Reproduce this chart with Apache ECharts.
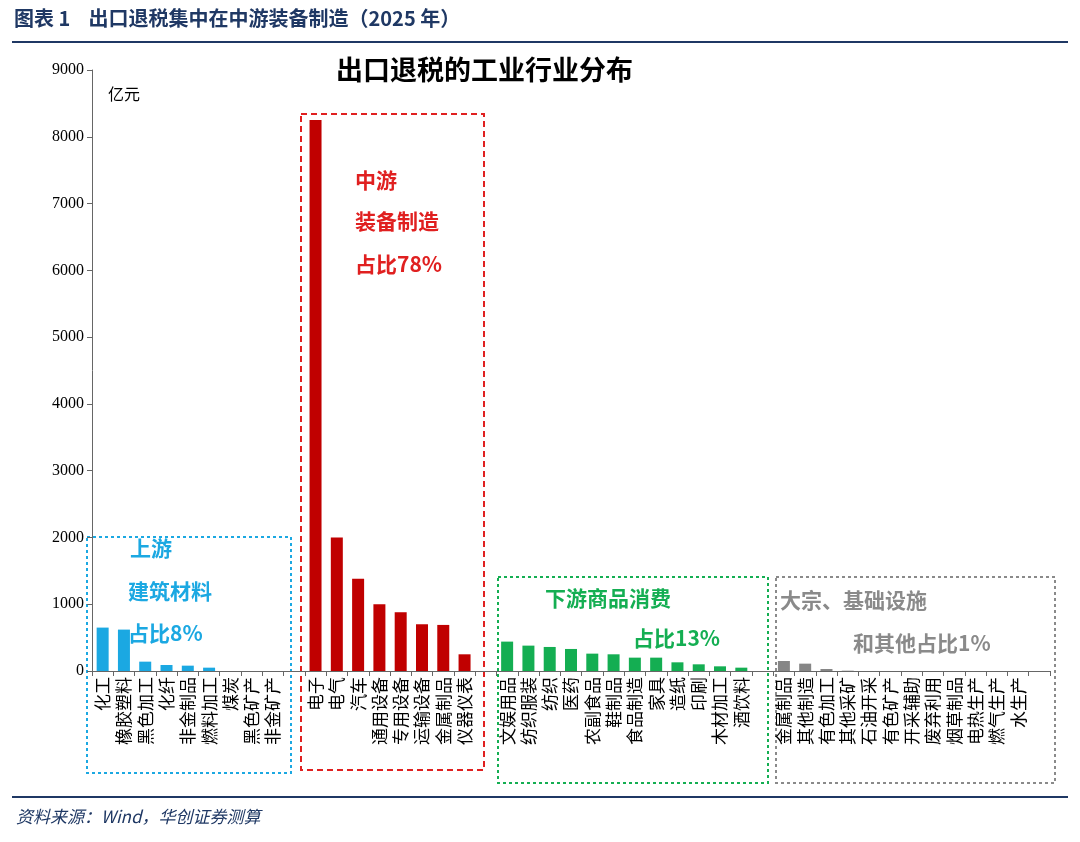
<!DOCTYPE html>
<html>
<head>
<meta charset="utf-8">
<script src="https://cdn.jsdelivr.net/npm/echarts@6/dist/echarts.min.js"></script>
<style>
  html, body { margin: 0; padding: 0; background: #fff; }
  #main { width: 1080px; height: 842px; }
</style>
</head>
<body>
<div id="main"></div>
<script>
  // categories, '' = gap between groups
  const upstream = ['化工', '橡胶塑料', '黑色加工', '化纤', '非金制品', '燃料加工', '煤炭', '黑色矿产', '非金矿产'];
  const upstreamVals = [650, 620, 140, 90, 80, 50, 0, 0, 0];
  const midstream = ['电子', '电气', '汽车', '通用设备', '专用设备', '运输设备', '金属制品', '仪器仪表'];
  const midstreamVals = [8250, 2000, 1380, 1000, 880, 700, 690, 250];
  const downstream = ['文娱用品', '纺织服装', '纺织', '医药', '农副食品', '鞋制品', '食品制造', '家具', '造纸', '印刷', '木材加工', '酒饮料'];
  const downstreamVals = [440, 380, 360, 330, 260, 250, 200, 200, 130, 100, 70, 50];
  const others = ['金属制品', '其他制造', '有色加工', '其他采矿', '石油开采', '有色矿产', '开采辅助', '废弃利用', '烟草制品', '电热生产', '燃气生产', '水生产'];
  const othersVals = [150, 110, 30, 5, 0, 0, 0, 0, 0, 0, 0, 0];

  const groups = [
    [upstream, upstreamVals, '#1ba8e2'],
    [midstream, midstreamVals, '#c00000'],
    [downstream, downstreamVals, '#14ae52'],
    [others, othersVals, '#868686']
  ];
  const cats = [];
  const data = [];
  groups.forEach(function (g, gi) {
    if (gi > 0) { cats.push(' '.repeat(gi)); data.push('-'); }
    g[0].forEach(function (c, i) {
      cats.push(c);
      data.push({ value: g[1][i], itemStyle: { color: g[2] } });
    });
  });
  cats.push('    '); data.push('-');

  const font = 'Noto Sans CJK SC';
  function note(x, y, t, color, size) {
    return { type: 'text', left: x, top: y, style: { text: t, fill: color, font: 'bold ' + (size || 21) + 'px "' + font + '"' } };
  }
  function box(x, y, w, h, color, dash) {
    return { type: 'rect', shape: { x: x, y: y, width: w, height: h },
      style: { fill: 'none', stroke: color, lineWidth: 2, lineDash: dash } };
  }

  const chart = echarts.init(document.getElementById('main'));
  chart.setOption({
    animation: false,
    textStyle: { fontFamily: font },
    grid: { left: 92, right: 30, top: 70, bottom: 171 },
    xAxis: {
      type: 'category',
      data: cats,
      axisLine: { lineStyle: { color: '#666' } },
      axisTick: { show: true, lineStyle: { color: '#666' } },
      axisLabel: { rotate: 90, interval: 0, color: '#000', fontSize: 17, margin: 6, lineHeight: 17 }
    },
    yAxis: {
      type: 'value', min: 0, max: 9000, interval: 1000,
      axisLine: { show: true, lineStyle: { color: '#666' } },
      axisTick: { show: true, inside: false },
      splitLine: { show: false },
      axisLabel: { color: '#000', fontSize: 16, fontFamily: 'Liberation Serif', formatter: function (v) { return String(v); } }
    },
    series: [{ type: 'bar', data: data, barWidth: 12 }],
    graphic: [
      note(14, 8, '图表 1    出口退税集中在中游装备制造（2025 年）', '#1f3864', 20),
      { type: 'line', shape: { x1: 12, y1: 42, x2: 1068, y2: 42 }, style: { stroke: '#1f3864', lineWidth: 2 } },
      { type: 'line', shape: { x1: 12, y1: 797, x2: 1068, y2: 797 }, style: { stroke: '#1f3864', lineWidth: 2 } },
      { type: 'text', left: 16, top: 808, style: { text: '资料来源：Wind，华创证券测算', fill: '#1f3864', font: 'italic 17px "' + font + '"' } },
      { type: 'text', left: 336, top: 56, style: { text: '出口退税的工业行业分布', fill: '#000', font: 'bold 27px "' + font + '"' } },
      { type: 'text', left: 108, top: 86, style: { text: '亿元', fill: '#000', font: '16px "' + font + '"' } },
      box(87, 537, 204, 236, '#1ba8e2', [3, 3]),
      box(301, 114, 183, 656, '#e02020', [6, 4]),
      box(498, 577, 270, 206, '#14ae52', [3, 3]),
      box(776, 577, 279, 206, '#8a8a8a', [3, 3]),
      note(130, 538, '上游', '#1ba8e2'),
      note(128, 581, '建筑材料', '#1ba8e2'),
      note(128, 623, '占比8%', '#1ba8e2'),
      note(355, 170, '中游', '#e02020'),
      note(355, 211, '装备制造', '#e02020'),
      note(355, 254, '占比78%', '#e02020'),
      note(545, 588, '下游商品消费', '#14ae52'),
      note(633, 628, '占比13%', '#14ae52'),
      note(780, 590, '大宗、基础设施', '#8a8a8a'),
      note(853, 633, '和其他占比1%', '#8a8a8a')
    ]
  });
</script>
</body>
</html>
